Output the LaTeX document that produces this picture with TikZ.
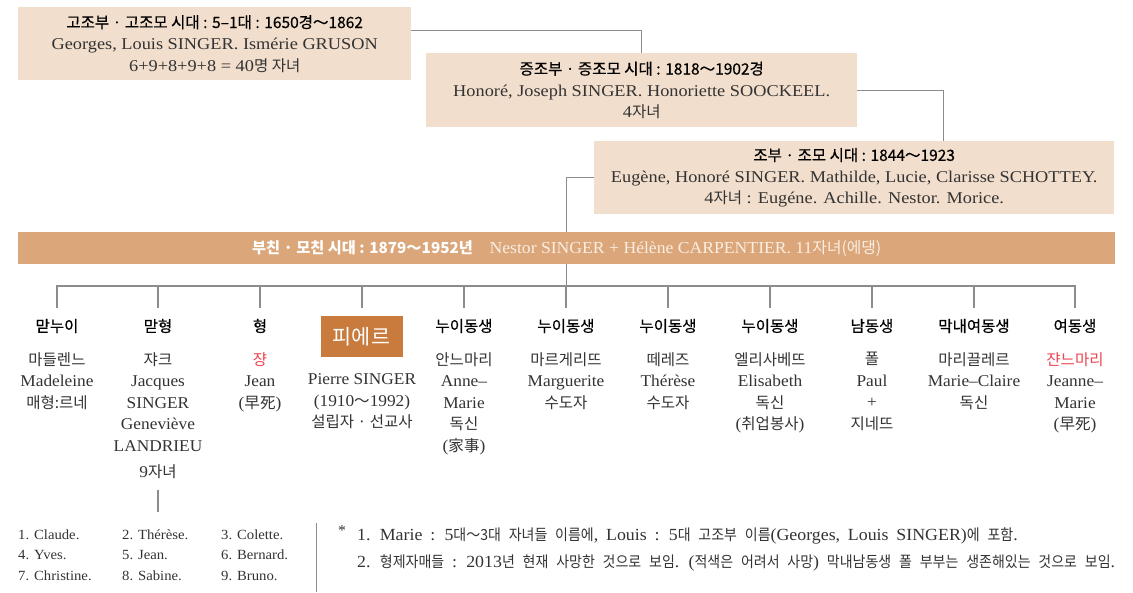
\documentclass[tikz,border=0pt]{standalone}
\usepackage{fontspec}
\setmainfont[FakeStretch=1.05]{Liberation Serif}
\newfontfamily\wideserif[FakeStretch=1.11]{Liberation Serif}
\newfontfamily\kr[Scale=0.94]{Noto Sans CJK KR}
\newfontfamily\krh[Scale=0.94,FakeBold=0.6]{Noto Sans CJK KR}
\newfontfamily\krs[Scale=0.9,FakeStretch=0.915]{Noto Sans CJK KR}
\definecolor{boxfill}{HTML}{F2DECC}
\definecolor{barfill}{HTML}{DBA67A}
\definecolor{bartext}{HTML}{FAEEE2}
\definecolor{pierrec}{HTML}{C97A3D}
\definecolor{lineg}{HTML}{8C8C8C}
\definecolor{redt}{HTML}{EA4450}
\definecolor{txt}{HTML}{333333}
\newcommand\K[1]{{\kr #1}}
\newcommand\KH[1]{{\krh\color{black} #1}}
\newcommand\Ks[1]{{\krs #1}}
\newcommand\tld{{\kr ～}}
\newcommand\widespaces{\spaceskip=7.8pt plus 1pt\relax}
\begin{document}
\begin{tikzpicture}[x=1pt,y=-1pt,
  genbox/.style={fill=boxfill, draw=none, inner sep=0, align=center, text=txt,
     font=\wideserif\fontsize{16.5}{21.5}\selectfont, anchor=north west},
  conn/.style={draw=lineg, line width=1.2pt},
  head/.style={font=\krh\fontsize{16.5}{20}\selectfont, text=black, inner sep=0},
  body/.style={align=center, font=\fontsize{16.5}{21.5}\selectfont, text=txt, inner sep=0, anchor=north}]
\useasboundingbox (0,0) rectangle (1133,592);
% generation boxes
\node[genbox, minimum width=393pt, minimum height=73pt] (g5) at (18,7)
  {\KH{고조부 · 고조모 시대 : 5–1대 : 1650경～1862}\\
   Georges, Louis SINGER. Ismérie GRUSON\\
   6+9+8+9+8 = 40\K{명 자녀}};
\node[genbox, minimum width=431pt, minimum height=74pt] (g4) at (426,53)
  {\KH{증조부 · 증조모 시대 : 1818～1902경}\\
   Honoré, Joseph SINGER. Honoriette SOOCKEEL.\\
   4\K{자녀}};
\node[genbox, minimum width=520pt, minimum height=73pt] (g3) at (594,141)
  {\KH{조부 · 조모 시대 : 1844～1923}\\
   Eugène, Honoré SINGER. Mathilde, Lucie, Clarisse SCHOTTEY.\\
   4\K{자녀} : Eugéne. Achille. Nestor. Morice.};
\node[fill=barfill, inner sep=0, minimum width=1097pt, minimum height=32pt, anchor=north west,
      text=bartext, font=\fontsize{16.8}{18}\selectfont] (bar) at (18,232)
  {{\kr\bfseries\color{white}\fontsize{16.2}{18}\selectfont 부친 · 모친 시대 : 1879～1952년}\quad Nestor SINGER + Hélène CARPENTIER. 11\K{자녀(에댕)}};
\draw[conn] ([yshift=13pt]g5.east) -| (g4.north);
\draw[conn] (g4.east) -| ([xshift=89pt]g3.north);
\draw[conn] (g3.west) -| (bar.north);
% children
\coordinate (hub) at (bar.south |- 0,286);
\foreach \i/\x in {1/57,2/158,3/260,4/362,5/464,6/566,7/668,8/770,9/872,10/974,11/1075}
  {\coordinate (t\i) at (\x,308);}
\draw[conn] (bar.south) -- (hub);
\draw[conn] (t1) |- (hub) -| (t11);
\foreach \i in {2,...,10} {\draw[conn] (t\i) -- (t\i |- hub);}
\node[head] (h1) at (57,326) {맏누이};
\node[head] (h2) at (158,326) {맏형};
\node[head] (h3) at (260,326) {형};
\node[fill=pierrec, text=white, inner sep=0, minimum width=82pt, minimum height=41pt,
      font=\kr\fontsize{22}{24}\selectfont] (h4) at (361.5,336.5) {피에르};
\node[head] (h5) at (464,326) {누이동생};
\node[head] (h6) at (566,326) {누이동생};
\node[head] (h7) at (668,326) {누이동생};
\node[head] (h8) at (770,326) {누이동생};
\node[head] (h9) at (872,326) {남동생};
\node[head] (h10) at (974,326) {막내여동생};
\node[head] (h11) at (1075,326) {여동생};
\node[body] (b1) at (57,352) {\K{마들렌느}\\ Madeleine\\ \K{매형:르네}};
\node[body] (b2) at (158,352) {\K{쟈크}\\ Jacques\\ SINGER\\ Geneviève\\ LANDRIEU};
\node[body] (j9) at (158,464) {9\K{자녀}};
\node[body] (b3) at (260,352) {\K{\color{redt}쟝}\\ Jean\\ (\K{早死})};
\node[body] (b4) at (362,373.5) {Pierre SINGER\\ (1910\tld1992)\\ \K{설립자 · 선교사}};
\node[body] (b5) at (464,352) {\K{안느마리}\\ Anne–\\ Marie\\ \K{독신}\\ (\K{家事})};
\node[body] (b6) at (566,352) {\K{마르게리뜨}\\ Marguerite\\ \K{수도자}};
\node[body] (b7) at (668,352) {\K{떼레즈}\\ Thérèse\\ \K{수도자}};
\node[body] (b8) at (770,352) {\K{엘리사베뜨}\\ Elisabeth\\ \K{독신}\\ (\K{취업봉사})};
\node[body] (b9) at (872,352) {\K{폴}\\ Paul\\ +\\ \K{지네뜨}};
\node[body] (b10) at (974,352) {\K{마리끌레르}\\ Marie–Claire\\ \K{독신}};
\node[body] (b11) at (1075,352) {\K{\color{redt}쟌느마리}\\ Jeanne–\\ Marie\\ (\K{早死})};
% grandchildren of Jacques
\coordinate (ja) at (158,490);
\coordinate (jb) at (158,512);
\draw[conn] (ja) -- (jb);
\node[anchor=north west, inner sep=0, text=txt, font=\fontsize{14}{20.5}\selectfont] (kids) at (18,524.5)
  {\begin{tabular}{@{}p{104pt}@{}p{99pt}@{}l@{}}
   1. Claude. & 2. Thérèse. & 3. Colette.\\
   4. Yves. & 5. Jean. & 6. Bernard.\\
   7. Christine. & 8. Sabine. & 9. Bruno.
   \end{tabular}};
\coordinate (sa) at (316.5,523);
\coordinate (sb) at (316.5,592);
\draw[conn] (sa) -- (sb);
% notes
\node[anchor=north, inner sep=0, text=txt, font=\fontsize{15}{18}\selectfont] (star) at (342,525) {*};
\node[anchor=north west, inner sep=0, align=left, text=txt,
      font=\fontsize{17}{27}\selectfont\widespaces] (notes) at (357,527.5)
  {1. Marie : 5\Ks{대～3대 자녀들 이름에}, Louis : 5\Ks{대 고조부 이름}(Georges, Louis SINGER)\Ks{에 포함}.\\
   2. \Ks{형제자매들} : 2013\Ks{년 현재 사망한 것으로 보임}. (\Ks{적색은 어려서 사망}) \Ks{막내남동생 폴 부부는 생존해있는 것으로 보임}.};
\end{tikzpicture}
\end{document}
